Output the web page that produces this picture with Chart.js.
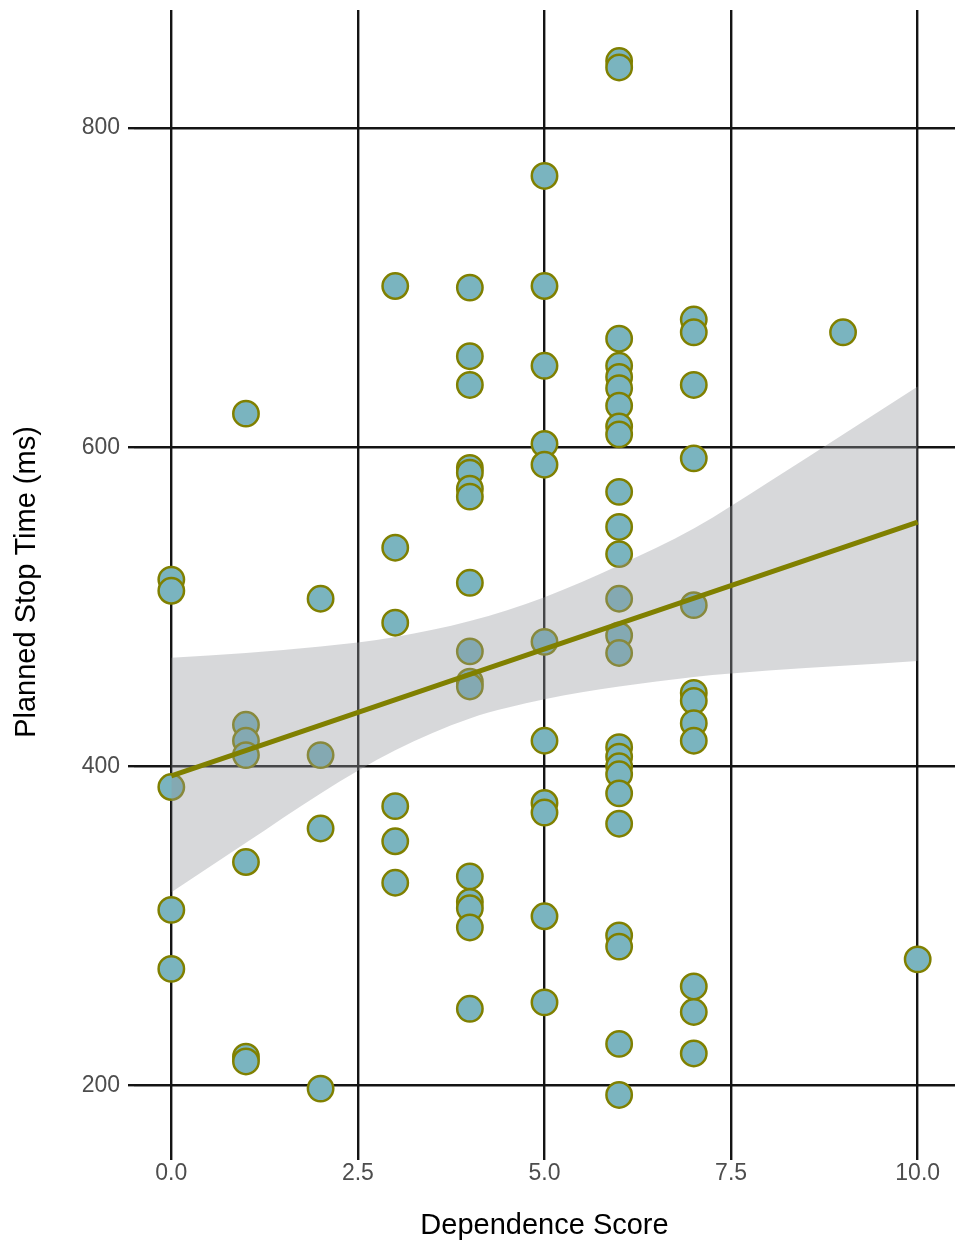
<!DOCTYPE html>
<html>
<head>
<meta charset="utf-8">
<script src="https://cdn.jsdelivr.net/npm/chart.js@4.4.1/dist/chart.umd.min.js"></script>
<style>
  html, body { margin: 0; padding: 0; background: #ffffff; }
  #wrap { width: 955px; height: 1245px; }
</style>
</head>
<body>
<div id="wrap"><canvas id="stopChart" width="955" height="1245"></canvas></div>
<script>
// dependence score (x) and planned stop time in ms (y), one column per score
const scoreCols = [0, 1, 2, 3, 4, 5, 6, 7, 9, 10];
const stopTimes = [
    [517, 510, 387, 310, 273],
    [621, 426, 416, 407, 340, 218, 215],
    [505, 407, 361, 198],
    [701, 537, 490, 375, 353, 327],
    [700, 657, 639, 587, 584, 574, 569, 515, 472, 453, 450, 331, 315, 311, 299, 248],
    [770, 701, 651, 602, 589, 478, 416, 377, 371, 306, 252],
    [842, 838, 668, 651, 644, 637, 626, 613, 608, 572, 550, 533, 505, 482, 471, 412, 406, 400, 395, 383, 364, 294, 287, 226, 194],
    [680, 672, 639, 593, 501, 446, 441, 427, 416, 262, 246, 220],
    [672],
    [279]
];

// linear fit and its confidence band
const fitX = [0, 10];
const fitY = [394, 553];
const bandX = [0, 1, 2, 3, 4, 5, 6, 7, 8, 9, 10];
const bandUpper = [468, 471, 475, 481, 491, 506, 526, 549, 578, 608, 638];
const bandLower = [321, 352, 383, 410, 430, 442, 450, 456, 460, 463, 466];

const xTicks = [0, 2.5, 5, 7.5, 10];
const yTicks = [200, 400, 600, 800];

const points = [];
scoreCols.forEach((x, i) => {
    stopTimes[i].forEach(y => points.push({ x: x, y: y }));
});

const FONT = '"Liberation Sans", Arial, Helvetica, sans-serif';

const ctx = document.getElementById('stopChart').getContext('2d');
const stopChart = new Chart(ctx, {
    type: 'scatter',
    data: {
        datasets: [
            {
                type: 'line',
                data: fitX.map((x, i) => ({ x: x, y: fitY[i] })),
                borderColor: '#808000',
                borderWidth: 5,
                pointRadius: 0,
                fill: false,
                order: 0
            },
            {
                type: 'line',
                data: bandX.map((x, i) => ({ x: x, y: bandUpper[i] })),
                borderWidth: 0,
                borderColor: 'rgba(0,0,0,0)',
                backgroundColor: 'rgba(150,153,158,0.38)',
                pointRadius: 0,
                cubicInterpolationMode: 'monotone',
                fill: '+1',
                order: 1
            },
            {
                type: 'line',
                data: bandX.map((x, i) => ({ x: x, y: bandLower[i] })),
                borderWidth: 0,
                borderColor: 'rgba(0,0,0,0)',
                pointRadius: 0,
                cubicInterpolationMode: 'monotone',
                fill: false,
                order: 1
            },
            {
                data: points,
                backgroundColor: '#7ab4bf',
                borderColor: '#808000',
                borderWidth: 2.5,
                pointRadius: 12.7,
                order: 2
            }
        ]
    },
    options: {
        responsive: false,
        animation: false,
        layout: { autoPadding: false, padding: { top: 10, right: 0, bottom: 0, left: 0 } },
        plugins: {
            legend: { display: false },
            tooltip: { enabled: false }
        },
        scales: {
            x: {
                type: 'linear',
                min: -0.5,
                max: 10.5,
                afterBuildTicks: s => { s.ticks = xTicks.map(v => ({ value: v })); },
                afterFit: s => { s.height = 91; s.paddingLeft = 0; s.paddingRight = 0; },
                border: { display: false },
                grid: { color: '#141414', lineWidth: 2.4, tickLength: 6 },
                ticks: {
                    color: '#4d4d4d',
                    font: { family: FONT, size: 23 },
                    padding: 0,
                    maxRotation: 0,
                    callback: v => v.toFixed(1)
                },
                title: {
                    display: true,
                    text: 'Dependence Score',
                    color: '#000000',
                    font: { family: FONT, size: 29 },
                    padding: { top: 0, bottom: 2 }
                }
            },
            y: {
                type: 'linear',
                min: 157,
                max: 874,
                afterBuildTicks: s => { s.ticks = yTicks.map(v => ({ value: v })); },
                afterFit: s => { s.width = 134; s.paddingTop = 0; s.paddingBottom = 0; },
                border: { display: false },
                grid: { color: '#141414', lineWidth: 2.4, tickLength: 6 },
                ticks: {
                    color: '#4d4d4d',
                    font: { family: FONT, size: 23 },
                    padding: 8
                },
                title: {
                    display: true,
                    text: 'Planned Stop Time (ms)',
                    color: '#000000',
                    font: { family: FONT, size: 29 },
                    padding: { top: 10, bottom: 0 }
                }
            }
        }
    }
});
</script>
</body>
</html>
